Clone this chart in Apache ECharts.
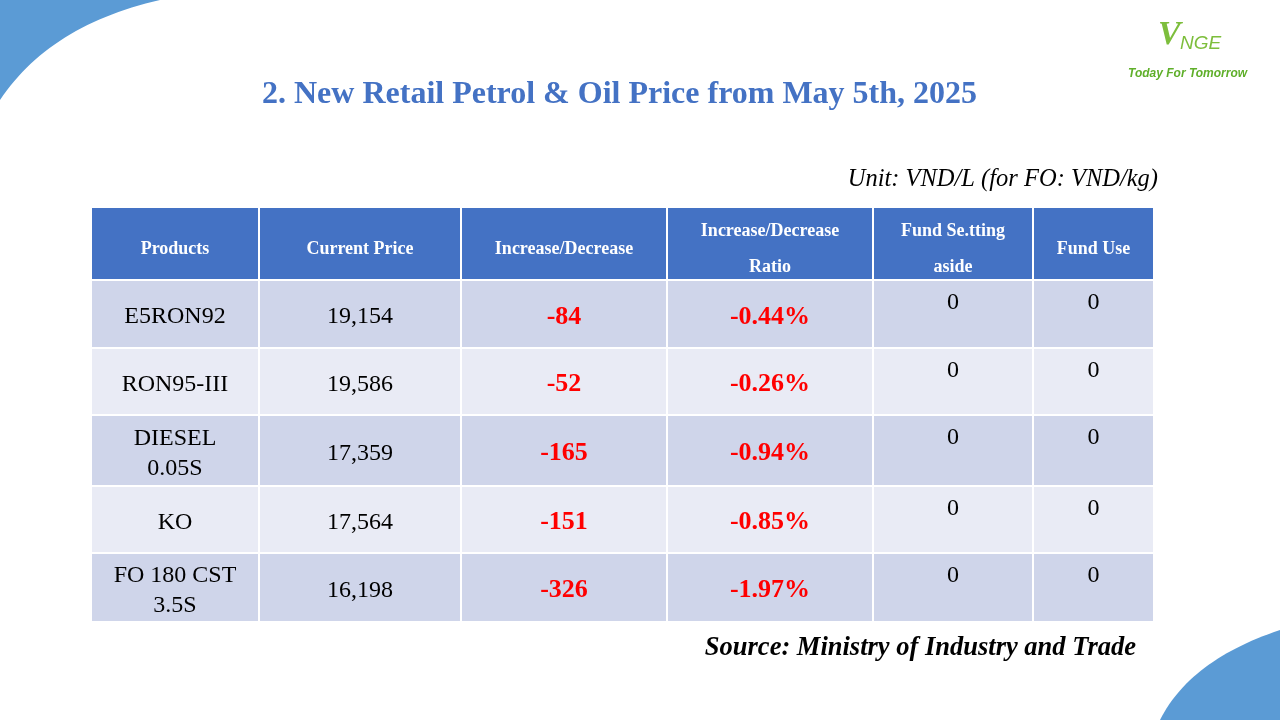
<!DOCTYPE html>
<html><head><meta charset="utf-8">
<script src="https://cdn.jsdelivr.net/npm/echarts@6/dist/echarts.min.js"></script>
<style>html,body{margin:0;padding:0;background:#fff}#c{width:1280px;height:720px}</style>
</head><body><div id="c"></div>
<script>
const headers = ["Products","Current Price","Increase/Decrease","Increase/Decrease\nRatio","Fund Se.tting\naside","Fund Use"];
const products = ["E5RON92","RON95-III","DIESEL\n0.05S","KO","FO 180 CST\n3.5S"];
const currentPrice = ["19,154","19,586","17,359","17,564","16,198"];
const change = ["-84","-52","-165","-151","-326"];
const ratio = ["-0.44%","-0.26%","-0.94%","-0.85%","-1.97%"];
const fundSetAside = ["0","0","0","0","0"];
const fundUse = ["0","0","0","0","0"];

// layout (pixel-based axes)
const colEdges = [91,259,461,667,873,1033,1154];
const rowEdges = [207,280,348,415,486,553,622];
const columns = [products,currentPrice,change,ratio,fundSetAside,fundUse];
const data = [], labels = [];
headers.forEach((h,c)=>{data.push([c,0]);labels.push(h);});
for(let r=0;r<products.length;r++) for(let c=0;c<6;c++){data.push([c,r+1]);labels.push(columns[c][r]);}

function curve(p0,p1,p2,extra){
  const pts=[];
  for(let i=0;i<=30;i++){const t=i/30,a=(1-t)*(1-t),b=2*(1-t)*t,d=t*t;
    pts.push([a*p0[0]+b*p1[0]+d*p2[0],a*p0[1]+b*p1[1]+d*p2[1]]);}
  return pts.concat(extra);
}

const serif = '"Liberation Serif","Times New Roman",serif';
const chart = echarts.init(document.getElementById('c'));
chart.setOption({
  animation:false,
  grid:{left:0,top:0,right:0,bottom:0},
  xAxis:{type:'value',min:0,max:1280,show:false},
  yAxis:{type:'value',min:0,max:720,inverse:true,show:false},
  graphic:[
    {type:'polygon',shape:{points:curve([160,0],[50,25],[0,100],[[0,0]])},style:{fill:'#5B9BD5'}},
    {type:'polygon',shape:{points:curve([1280,630],[1190,660],[1160,720],[[1280,720]])},style:{fill:'#5B9BD5'}},
    {type:'text',left:1158,top:18,style:{text:'V',fill:'#7DBE3C',font:'italic bold 34px '+serif}},
    {type:'text',left:1180,top:34,style:{text:'NGE',fill:'#7DBE3C',font:'italic 19px "Liberation Sans",sans-serif'}},
    {type:'text',left:1128,top:68,style:{text:'Today For Tomorrow',fill:'#5FAF2A',font:'italic bold 12px "Liberation Sans",sans-serif'}},
    {type:'text',left:262,top:79,style:{text:'2. New Retail Petrol & Oil Price from May 5th, 2025',fill:'#4472C4',font:'bold 32px '+serif}},
    {type:'text',right:122,top:167,style:{text:'Unit: VND/L (for FO: VND/kg)',fill:'#000',font:'italic 24.5px '+serif}},
    {type:'text',right:144,top:635,style:{text:'Source: Ministry of Industry and Trade',fill:'#000',font:'italic bold 26.5px '+serif}}
  ],
  series:[{
    type:'custom',
    data:data,
    renderItem:function(params,api){
      const c=api.value(0), r=api.value(1), txt=labels[params.dataIndex];
      const p0=api.coord([colEdges[c],rowEdges[r]]), p1=api.coord([colEdges[c+1],rowEdges[r+1]]);
      const x=p0[0]+1,y=p0[1]+1,w=p1[0]-p0[0]-2,h=p1[1]-p0[1]-2;
      let fill = r===0?'#4472C4':(r%2===1?'#CFD5EA':'#E9EBF5');
      let color='#000', font='24px '+serif, ty=y+h/2+3, va='middle', lh=30;
      if(r===0){color='#fff';font='bold 18px '+serif;lh=36;ty=y+h/2+6;}
      else if(c===2||c===3){color='#FF0000';font='bold 26px '+serif;}
      else if(c>=4){ty=y+7;va='top';}
      return {type:'group',children:[
        {type:'rect',shape:{x:x,y:y,width:w,height:h},style:{fill:fill}},
        {type:'text',style:{x:x+w/2,y:ty,text:txt,fill:color,font:font,align:'center',verticalAlign:va,lineHeight:lh}}
      ]};
    }
  }]
});
</script></body></html>
